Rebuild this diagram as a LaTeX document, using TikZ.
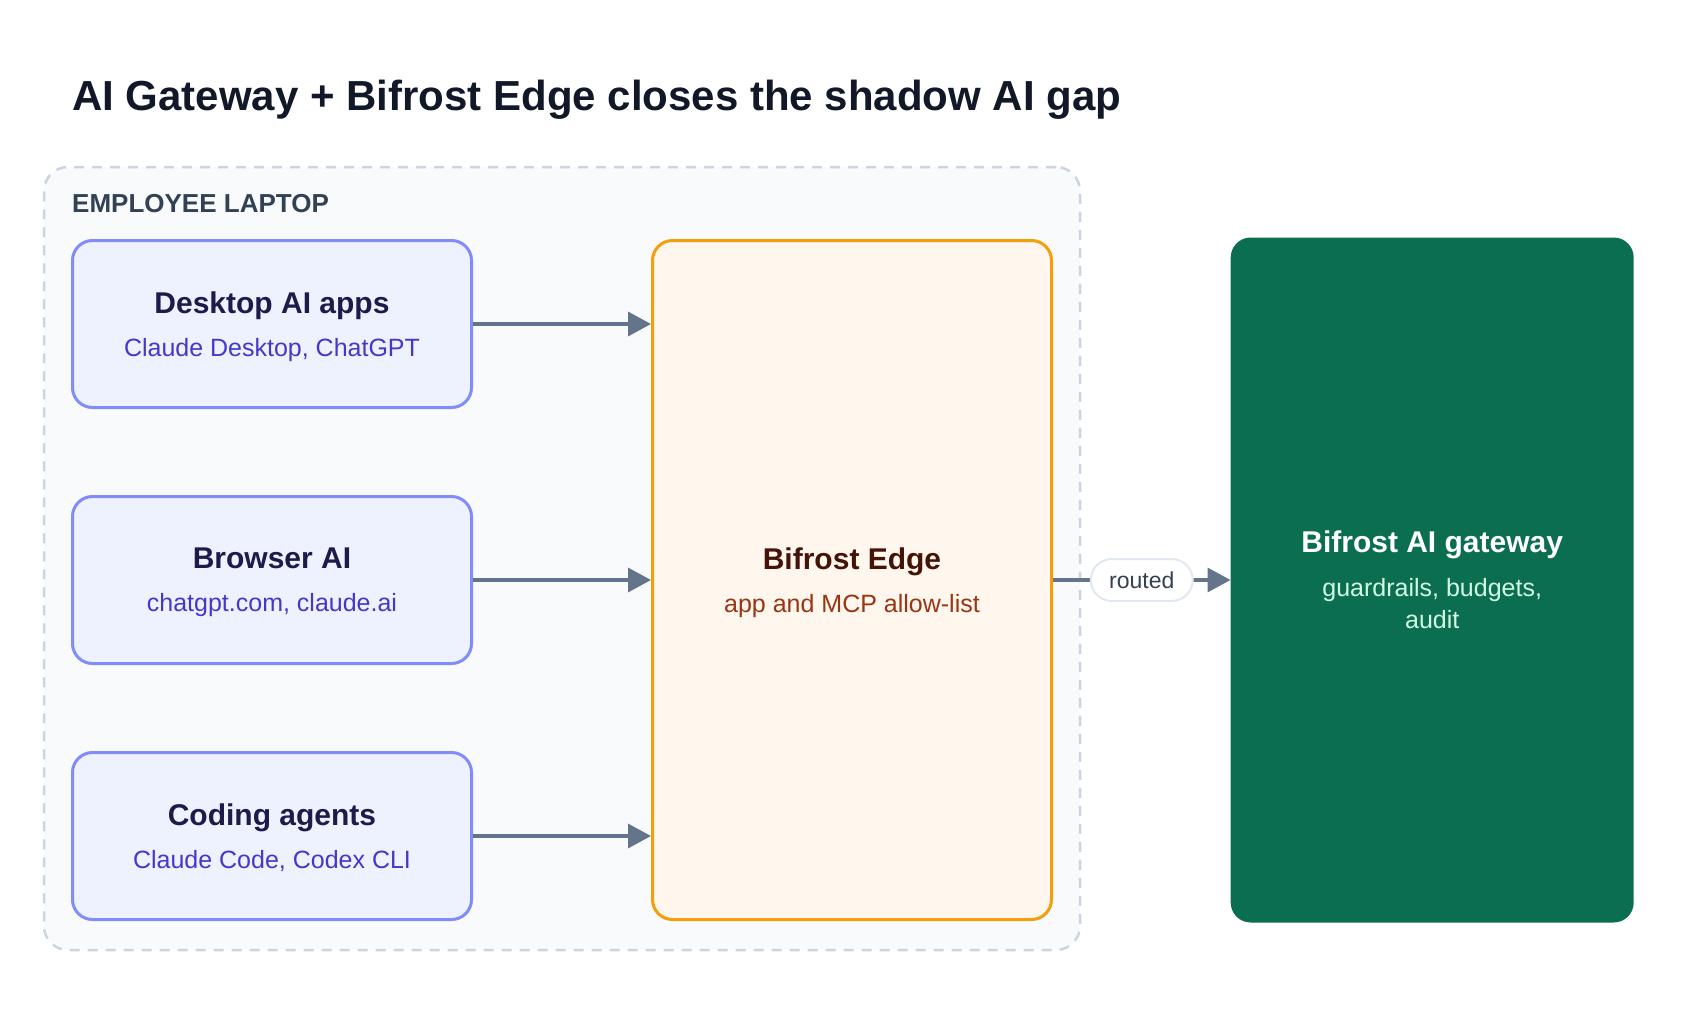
\documentclass[tikz,border=0pt]{standalone}
\usepackage{fontspec}
\setmainfont{Liberation Sans}
\usetikzlibrary{arrows.meta,positioning}
\definecolor{titleink}{HTML}{111827}
\definecolor{laptopfill}{HTML}{F8FAFC}
\definecolor{laptopline}{HTML}{CBD5E1}
\definecolor{laptopink}{HTML}{334155}
\definecolor{clientfill}{HTML}{EEF2FF}
\definecolor{clientline}{HTML}{818CF8}
\definecolor{clientink}{HTML}{1E1B4B}
\definecolor{clientsub}{HTML}{4338CA}
\definecolor{edgefill}{HTML}{FFF7ED}
\definecolor{edgeline}{HTML}{F59E0B}
\definecolor{edgeink}{HTML}{431407}
\definecolor{edgesub}{HTML}{9A3412}
\definecolor{gatewayfill}{HTML}{0C6E50}
\definecolor{gatewaysub}{HTML}{D1FAE5}
\definecolor{flowline}{HTML}{64748B}
\definecolor{pillline}{HTML}{E2E8F0}
\tikzset{
>={Triangle[length=23pt,width=24pt]}, % arrow heads of the flows
node distance=86pt, % gap between the client boxes
every node/.style={align=center, inner sep=0pt},
laptop/.style={draw=laptopline, fill=laptopfill, line width=2.5pt, dash pattern=on 10pt off 8pt, rounded corners=24pt, minimum width=1036pt, minimum height=783pt},
client/.style={draw=clientline, fill=clientfill, line width=3pt, rounded corners=20pt, minimum width=399pt, minimum height=167pt, text depth=0pt, text=clientink, font=\fontsize{30}{43}\selectfont},
edgebox/.style={draw=edgeline, fill=edgefill, line width=3pt, rounded corners=20pt, minimum width=399pt, minimum height=679pt, text depth=0pt, text=edgeink, font=\fontsize{30}{43}\selectfont},
gatewaybox/.style={fill=gatewayfill, rounded corners=20pt, minimum width=403pt, minimum height=685pt, text depth=0pt, text=white, font=\fontsize{30}{32}\selectfont},
pill/.style={draw=pillline, fill=white, line width=2pt, rounded corners=21pt, minimum width=102pt, minimum height=42pt, text=laptopink, font=\fontsize{23}{28}\selectfont},
flow/.style={->, draw=flowline, line width=3.5pt},
}
\begin{document}
\begin{tikzpicture}[x=1pt, y=-1pt]
		\useasboundingbox (0,0) rectangle (1704,1020);
		\node[anchor=base west, text=titleink, font=\fontsize{42}{48}\selectfont\bfseries] (title) at (72,110) {AI Gateway + Bifrost Edge closes the shadow AI gap};
		\node[laptop] (laptop) at (562,558.5) {};
		\node[anchor=base west, text=laptopink, font=\fontsize{26}{30}\selectfont\bfseries] (laptoplabel) at (72,212) {EMPLOYEE LAPTOP};

		\node[client] (desktop) at (272,324) {\textbf{Desktop AI apps}\\\color{clientsub}\fontsize{25}{43}\selectfont Claude Desktop, ChatGPT};
		\node[client, below=of desktop] (browser) {\textbf{Browser AI}\\\color{clientsub}\fontsize{25}{43}\selectfont chatgpt.com, claude.ai};
		\node[client, below=of browser] (coding) {\textbf{Coding agents}\\\color{clientsub}\fontsize{25}{43}\selectfont Claude Code, Codex CLI};

		\node[edgebox, right=178pt of browser] (bifrost) {\textbf{Bifrost Edge}\\\color{edgesub}\fontsize{25}{43}\selectfont app and MCP allow-list};
		\node[gatewaybox, right=177.5pt of bifrost] (gateway) {\textbf{Bifrost AI gateway}\\[12pt]\color{gatewaysub}\fontsize{25}{32}\selectfont guardrails, budgets,\\\color{gatewaysub}\fontsize{25}{32}\selectfont audit};

		\draw[flow] (desktop.east) -- (desktop.east -| bifrost.west);
		\draw[flow] (browser.east) -- (browser.east -| bifrost.west);
		\draw[flow] (coding.east) -- (coding.east -| bifrost.west);
		\draw[flow] (bifrost) -- node[pill] {routed} (gateway);

	\end{tikzpicture}
\end{document}
